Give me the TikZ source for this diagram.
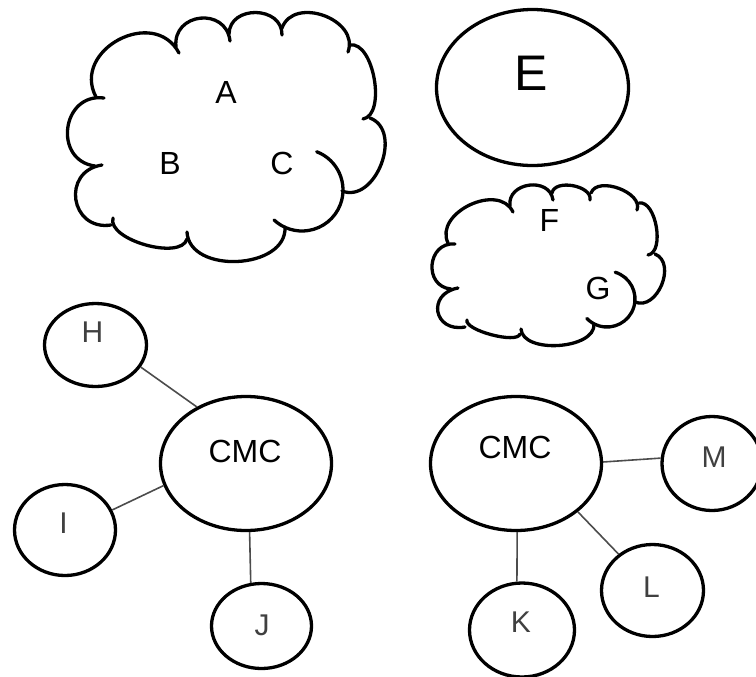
\documentclass[tikz,border=0pt]{standalone}
\usepackage{fontspec}
\setmainfont{Liberation Sans}
\usetikzlibrary{shapes.geometric,calc}

\tikzset{
  bubble/.style={draw, ellipse, line width=1.65pt, inner sep=0pt},
  link/.style={draw=black!70, line width=0.8pt},
  cloudline/.style={line width=1.65pt, line cap=round},
  tag/.style={font=\fontsize{16}{18}\selectfont, inner sep=0pt},
  bigtag/.style={font=\fontsize{25}{28}\selectfont, inner sep=0pt},
  thintag/.style={font=\fontsize{15}{17}\selectfont, text=black!75, inner sep=0pt}
}

% one puff of a cloud: start, bulge (px), end
\newcommand{\puff}[3]{%
  \path (#1) coordinate (ps) (#3) coordinate (pe);
  \path ($(ps)!0.5!(pe)$) coordinate (pm);
  \path ($(pm)!#2*0.5pt!90:(pe)$) coordinate (ptop);
  \draw[cloudline] (ps) .. controls ($(ps)+1.3333*(ptop)-1.3333*(pm)$)
    and ($(pe)+1.3333*(ptop)-1.3333*(pm)$) .. (pe);}

\begin{document}
\begin{tikzpicture}[x=0.5pt,y=-0.5pt]
    \useasboundingbox (0,0) rectangle (756,676);

    % big cloud
    \puff{96,97}{40}{179,53}
    \puff{176,47}{26}{230,41}
    \puff{229,34}{22}{282,35}
    \puff{282,28}{26}{348,52}
    \puff{350,45}{18}{363,119}
    \puff{370,118}{27}{342,191}
    \draw[cloudline] ([shift={(-69:41)}]302,190) arc[start angle=-69, end angle=133, radius=41];
    \puff{285,227}{32}{187,232}
    \puff{187,239}{17}{113,218}
    \puff{111,225}{31}{102,165}
    \puff{95,166}{32}{104,98}

    \node[tag] (a) at (226,92.5) {A};
    \node[tag] (b) at (170,163.5) {B};
    \node[tag] (c) at (282,163.5) {C};

    \node[bubble, minimum width=96pt, minimum height=78pt] (e) at (532.5,87.5) {};
    \node[bigtag] (elabel) at (531,73) {E};

    % small cloud
    \puff{448,243}{25}{513,212}
    \puff{510,206}{18}{553,200}
    \puff{552,193}{11}{590,200}
    \puff{591,193}{14}{637,210}
    \puff{639,203}{13}{648,255}
    \puff{655,254}{18}{635,302}
    \draw[cloudline] ([shift={(-73:28)}]607,299) arc[start angle=-73, end angle=136, radius=28];
    \puff{594,324}{19}{521,329}
    \puff{520,334}{8}{467,320}
    \puff{465,327}{24}{458,288}
    \puff{451,289}{21}{455,244}

    \node[tag] (f) at (549.5,220) {F};
    \node[tag] (g) at (598,288.5) {G};

    % left group
    \node[bubble, minimum width=85.5pt, minimum height=67pt] (cmcL) at (246,463.5) {};
    \node[tag] (cmcLlabel) at (245,451.5) {CMC};
    \node[bubble, minimum width=51pt, minimum height=41.5pt] (h) at (95.5,345) {};
    \node[thintag] (hlabel) at (92.5,332.5) {H};
    \node[bubble, minimum width=50.5pt, minimum height=45.5pt] (i) at (65,530) {};
    \node[thintag] (ilabel) at (63.5,523) {I};
    \node[bubble, minimum width=50pt, minimum height=42.5pt] (j) at (261.5,626) {};
    \node[thintag] (jlabel) at (262,625) {J};

    \draw[link] (h.-26) -- (cmcL.131);
    \draw[link] (i.23) -- (cmcL.195);
    \draw[link] (cmcL.273) -- (j.104);

    % right group
    \node[bubble, minimum width=85.5pt, minimum height=67pt] (cmcR) at (516,463.5) {};
    \node[tag] (cmcRlabel) at (515,447.5) {CMC};
    \node[bubble, minimum width=50pt, minimum height=47pt] (m) at (712,463.5) {};
    \node[thintag] (mlabel) at (714,457) {M};
    \node[bubble, minimum width=51pt, minimum height=46pt] (l) at (652.5,590.5) {};
    \node[thintag] (llabel) at (651.5,587) {L};
    \node[bubble, minimum width=52.5pt, minimum height=47pt] (k) at (522,630) {};
    \node[thintag] (klabel) at (521,622) {K};

    \draw[link] (cmcR.1) -- (m.174);
    \draw[link] (cmcR.-38) -- (l.133);
    \draw[link] (cmcR.271) -- (k.96);
\end{tikzpicture}
\end{document}
